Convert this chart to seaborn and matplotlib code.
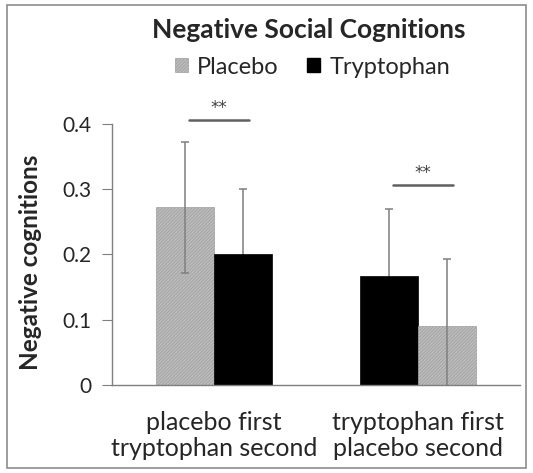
import matplotlib
matplotlib.use("Agg")
import matplotlib.pyplot as plt
import seaborn as sns
import pandas as pd
import numpy as np
from matplotlib.patches import Patch, Rectangle

# ---- data ----
groups = ["placebo first\ntryptophan second", "tryptophan first\nplacebo second"]
sessions = ["first", "second"]
treatment = [["Placebo", "Tryptophan"], ["Tryptophan", "Placebo"]]
means = [[0.272, 0.200], [0.167, 0.090]]
errors = [[0.100, 0.100], [0.103, 0.103]]
sig_labels = ["**", "**"]
sig_heights = [0.406, 0.307]
yticks = [0, 0.1, 0.2, 0.3, 0.4]
ytick_labels = ["0", "0.1", "0.2", "0.3", "0.4"]

rows = []
for g, grp in enumerate(groups):
    for s, ses in enumerate(sessions):
        rows.append(dict(group=grp, session=ses, treatment=treatment[g][s],
                         value=means[g][s], err=errors[g][s]))
df = pd.DataFrame(rows)

sns.set_style("white")
plt.rcParams["font.family"] = ["Lato", "DejaVu Sans"]
plt.rcParams["hatch.color"] = "#7a7a7a"
plt.rcParams["hatch.linewidth"] = 0.6

fig = plt.figure(figsize=(5.33, 4.73), dpi=100)
ax = fig.add_axes([0.210, 0.186, 0.766, 0.552])

sns.barplot(data=df, x="group", y="value", hue="session", order=groups,
            hue_order=sessions, errorbar=None, width=0.566, gap=0,
            palette=["#000000", "#000000"], ax=ax, legend=False, saturation=1)

face = {"Placebo": "#bdbdbd", "Tryptophan": "#000000"}
HATCH = "//////////"
bars = {}
for h, ses in enumerate(sessions):
    for g in range(len(groups)):
        p = ax.patches[h * len(groups) + g]
        bars[(g, h)] = p
        tr = treatment[g][h]
        p.set_facecolor(face[tr])
        p.set_edgecolor("#a0a0a0" if tr == "Placebo" else "#000000")
        p.set_linewidth(0.5)
        p.set_zorder(2)
        if tr == "Placebo":
            p.set_hatch(HATCH)
        cx = p.get_x() + p.get_width() / 2
        top = p.get_height()
        err = errors[g][h]
        # error bars drawn over hatched bars, behind solid black bars
        z = 5 if tr == "Placebo" else 1
        ax.errorbar([cx], [top], yerr=[[err], [err]], fmt="none",
                    ecolor="#7f7f7f", elinewidth=1.1, capsize=3, capthick=1.1, zorder=z)

# significance markers
for g in range(len(groups)):
    p0, p1 = bars[(g, 0)], bars[(g, 1)]
    x0 = p0.get_x() + p0.get_width() / 2
    x1 = p1.get_x() + p1.get_width() / 2
    y = sig_heights[g]
    ax.plot([x0 + 0.02, x1 + 0.03], [y, y], color="#606060", lw=1.8, clip_on=False)
    ax.text((x0 + x1) / 2 + 0.025, y + 0.004, sig_labels[g], ha="center", va="bottom",
            fontsize=12, color="#404040", clip_on=False, family="DejaVu Sans")

ax.set_ylim(0, 0.4)
ax.set_xlim(-0.5, 1.5)
ax.set_yticks(yticks)
ax.set_yticklabels(ytick_labels)
ax.set_xlabel("")
ax.set_ylabel("Negative cognitions", fontsize=17.5, fontweight="bold")
ax.yaxis.set_label_coords(-0.172, 0.47)

ax.set_xticks([-0.5, 0.5, 1.5], minor=True)
ax.tick_params(axis="x", which="major", length=0, labelsize=18, pad=19)
ax.tick_params(axis="x", which="minor", length=6, color="#7f7f7f", direction="out")
ax.tick_params(axis="y", which="major", length=7, color="#7f7f7f", direction="out",
               labelsize=15, pad=8, left=True)
for t in ax.get_xticklabels():
    t.set_linespacing(1.15)

sns.despine(ax=ax)
for s in ["left", "bottom"]:
    ax.spines[s].set_color("#7f7f7f")
    ax.spines[s].set_linewidth(1.0)

fig.text(0.579, 0.937, "Negative Social Cognitions", ha="center", va="center",
         fontsize=19, fontweight="bold")

handles = [Patch(facecolor=face["Placebo"], hatch=HATCH, edgecolor="#a0a0a0", lw=0.5),
           Patch(facecolor=face["Tryptophan"], edgecolor="#000000")]
fig.legend(handles, ["Placebo", "Tryptophan"], loc="center", ncol=2,
           bbox_to_anchor=(0.586, 0.858), frameon=False, fontsize=17,
           handlelength=0.55, handleheight=0.55, handletextpad=0.4, columnspacing=1.2)

fig.add_artist(Rectangle((0.013, 0.01), 0.974, 0.98, transform=fig.transFigure,
                         fill=False, edgecolor="#8c8c8c", lw=1.2))

fig.savefig("out.png", dpi=100)
